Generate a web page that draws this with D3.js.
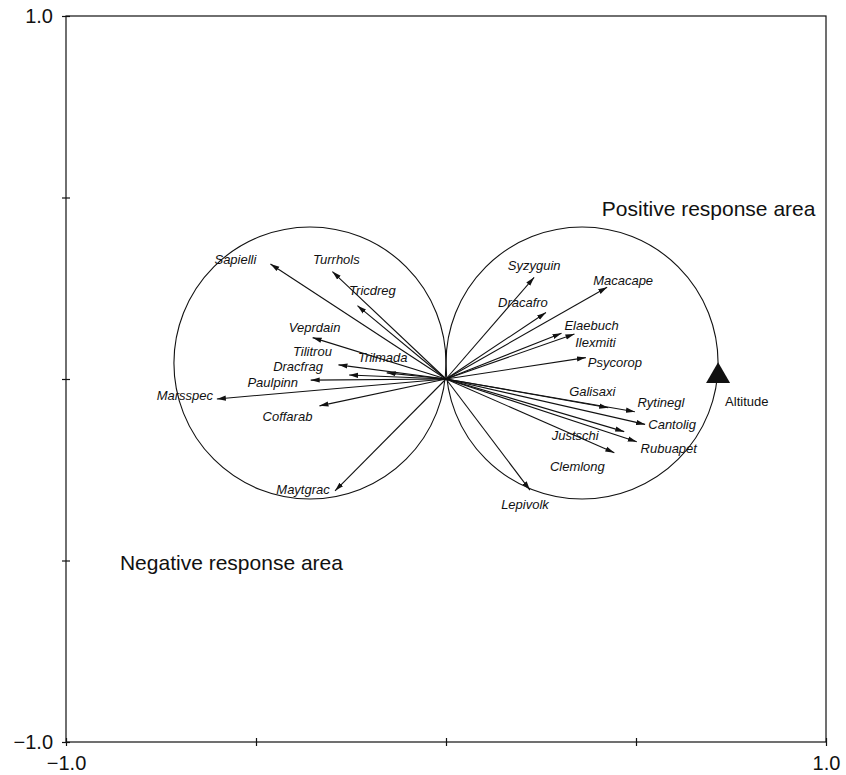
<!DOCTYPE html>
<html>
<head>
<meta charset="utf-8">
<script src="https://cdn.jsdelivr.net/npm/d3@7"></script>
<style>
  body { margin: 0; background: #fff; }
  text { font-family: "Liberation Sans", Arial, sans-serif; fill: #111; }
</style>
</head>
<body>
<svg id="chart" width="846" height="775"></svg>
<script>
// species scores (biplot arrows)
const species = ["Sapielli", "Turrhols", "Tricdreg", "Veprdain", "Tilitrou", "Trilmada",
  "Dracfrag", "Paulpinn", "Marsspec", "Coffarab", "Maytgrac", "Syzyguin", "Dracafro",
  "Macacape", "Elaebuch", "Ilexmiti", "Psycorop", "Galisaxi", "Rytinegl", "Cantolig",
  "Justschi", "Rubuapet", "Clemlong", "Lepivolk"];
const axis1 = [-0.462, -0.299, -0.233, -0.351, -0.283, -0.156, -0.255, -0.356, -0.603, -0.333,
  -0.292, 0.232, 0.263, 0.424, 0.304, 0.338, 0.368, 0.427, 0.497, 0.524, 0.469, 0.502, 0.443, 0.221];
const axis2 = [0.317, 0.296, 0.202, 0.114, 0.039, 0.017, 0.011, -0.003, -0.055, -0.074,
  -0.308, 0.280, 0.183, 0.253, 0.126, 0.124, 0.059, -0.079, -0.090, -0.125, -0.145, -0.173, -0.203, -0.306];

// environmental variable
const envName = "Altitude";
const envScore = [0.716, 0.008];

// response-area circles (centre x, centre y), radius in axis-1 units
const circleCentres = [[-0.358, 0.044], [0.358, 0.044]];
const circleRadius = 0.358;

const tickValues = [-1, -0.5, 0, 0.5, 1];
const tickLabels = {"-1": "\u22121.0", "1": "1.0"};

// label offsets in px from arrow tip (centre, baseline)
const labelOffset = {
  Sapielli: [-35, 0], Turrhols: [4, -8], Tricdreg: [15, -11], Veprdain: [2, -6],
  Tilitrou: [-26, -9], Trilmada: [-4, -11], Dracfrag: [-51, -4], Paulpinn: [-38, 7],
  Marsspec: [-32, 1], Coffarab: [-32, 15], Maytgrac: [-32, 3], Syzyguin: [0, -7],
  Dracafro: [-23, -6], Macacape: [16, -2], Elaebuch: [30, -3], Ilexmiti: [21, 13],
  Psycorop: [29, 9], Galisaxi: [-16, -12], Rytinegl: [26, -5], Cantolig: [27, 5],
  Justschi: [-49, 8], Rubuapet: [32, 11], Clemlong: [-37, 18], Lepivolk: [-5, 19]
};

const margin = { top: 16, right: 20, bottom: 33, left: 66 };
const svg = d3.select("#chart");
const W = +svg.attr("width"), H = +svg.attr("height");

const x = d3.scaleLinear().domain([-1, 1]).range([margin.left, W - margin.right]);
const y = d3.scaleLinear().domain([-1, 1]).range([H - margin.bottom, margin.top]);

svg.append("defs").append("marker")
  .attr("id", "head")
  .attr("viewBox", "0 -3 9 6")
  .attr("refX", 9).attr("refY", 0)
  .attr("markerWidth", 9).attr("markerHeight", 6)
  .attr("markerUnits", "userSpaceOnUse")
  .attr("orient", "auto")
  .append("path")
  .attr("d", "M0,-2.6L9,0L0,2.6Z")
  .attr("fill", "#111");

// frame
svg.append("rect")
  .attr("x", x(-1)).attr("y", y(1))
  .attr("width", x(1) - x(-1)).attr("height", y(-1) - y(1))
  .attr("fill", "none").attr("stroke", "#111").attr("stroke-width", 1.2);

const fmt = d => tickLabels[String(d)] || "";

const gx = svg.append("g")
  .attr("transform", `translate(0,${y(-1)})`)
  .call(d3.axisBottom(x).tickValues(tickValues).tickFormat(fmt).tickSize(4).tickPadding(10));
const gy = svg.append("g")
  .attr("transform", `translate(${x(-1)},0)`)
  .call(d3.axisLeft(y).tickValues(tickValues).tickFormat(fmt).tickSize(4).tickPadding(9));

[gx, gy].forEach(g => {
  g.select(".domain").remove();
  g.selectAll("text").style("font-size", "20px").attr("fill", "#111");
  g.selectAll("line").attr("stroke", "#111").attr("stroke-width", 1.2);
});
gx.selectAll("line").attr("y1", -4);
gy.selectAll("line").attr("x1", 4);

// circles
svg.selectAll(".area")
  .data(circleCentres)
  .enter().append("circle")
  .attr("class", "area")
  .attr("cx", d => x(d[0]))
  .attr("cy", d => y(d[1]))
  .attr("r", x(circleRadius) - x(0))
  .attr("fill", "none")
  .attr("stroke", "#111")
  .attr("stroke-width", 1.1);

const data = species.map((s, i) => ({ name: s, a1: axis1[i], a2: axis2[i] }));

svg.selectAll(".arrow")
  .data(data)
  .enter().append("line")
  .attr("class", "arrow")
  .attr("x1", x(0)).attr("y1", y(0))
  .attr("x2", d => x(d.a1)).attr("y2", d => y(d.a2))
  .attr("stroke", "#111")
  .attr("stroke-width", 1.1)
  .attr("marker-end", "url(#head)");

svg.selectAll(".lab")
  .data(data)
  .enter().append("text")
  .attr("class", "lab")
  .attr("x", d => x(d.a1) + labelOffset[d.name][0])
  .attr("y", d => y(d.a2) + labelOffset[d.name][1])
  .attr("text-anchor", "middle")
  .style("font-size", "13px")
  .style("font-style", "italic")
  .text(d => d.name);

// environmental variable
svg.append("path")
  .attr("d", d3.symbol(d3.symbolTriangle).size(250)())
  .attr("transform", `translate(${x(envScore[0])},${y(envScore[1])})`)
  .attr("fill", "#111");
svg.append("text")
  .attr("x", x(envScore[0]) + 7)
  .attr("y", y(envScore[1]) + 30)
  .style("font-size", "13px")
  .text(envName);

// response area annotations
svg.append("text")
  .attr("x", x(0.41)).attr("y", y(0.449))
  .style("font-size", "21px")
  .text("Positive response area");
svg.append("text")
  .attr("x", x(-0.858)).attr("y", y(-0.527))
  .style("font-size", "21px")
  .text("Negative response area");
</script>
</body>
</html>
